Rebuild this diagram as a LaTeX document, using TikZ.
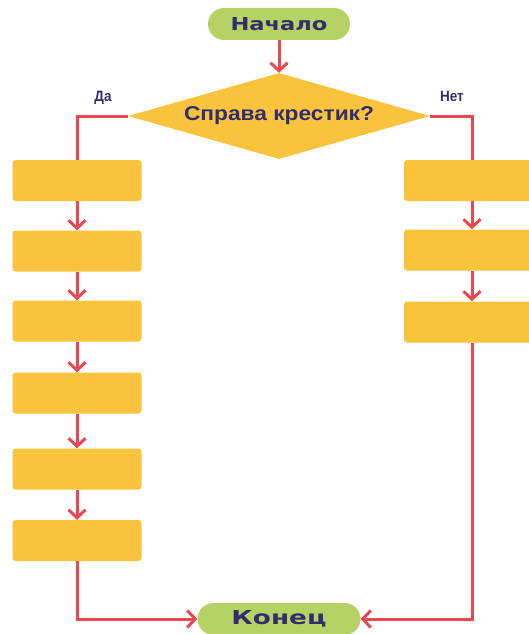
\documentclass[tikz,border=0pt]{standalone}
\usepackage{graphicx}
\usepackage{fontspec}
\setmainfont{Liberation Sans}
\newfontfamily\pillfont{DejaVu Sans}
\usetikzlibrary{shapes.geometric,arrows.meta}
\definecolor{pillgreen}{RGB}{183,210,100}
\definecolor{boxyellow}{RGB}{249,195,62}
\definecolor{linered}{RGB}{232,72,80}
\definecolor{textnavy}{RGB}{50,46,110}
\tikzset{
  pill/.style={rectangle, rounded corners=16pt, fill=pillgreen, minimum height=32pt,
    inner sep=0pt, text=textnavy, font=\pillfont\bfseries\fontsize{20}{20}\selectfont},
  decision/.style={diamond, aspect=3.51, fill=boxyellow, inner sep=0pt, minimum width=302pt,
    minimum height=86pt, text=textnavy, font=\bfseries\fontsize{21}{21}\selectfont},
  actbox/.style={rectangle, rounded corners=3pt, fill=boxyellow, minimum height=41pt, inner sep=0pt},
  branchlbl/.style={text=textnavy, font=\bfseries\fontsize{15}{15}\selectfont, inner sep=0pt},
  flow/.style={draw=linered, line width=3pt},
  flowarrow/.style={flow, -{Straight Barb[length=8pt,width=17pt,line width=3pt]}}
}
\begin{document}
\begin{tikzpicture}[x=1pt,y=-1pt]
\useasboundingbox (0,0) rectangle (529,634);
\clip (0,0) rectangle (529,634);

% start and end
\node[pill, minimum width=142pt] (start) at (279,24) {\resizebox{97pt}{13pt}{Начало}};
\node[pill, minimum width=163pt] (stop) at (279,619) {\resizebox{95pt}{14pt}{Конец}};

% decision
\node[decision] (dec) at (279,116) {\resizebox{190pt}{14pt}{Справа крестик?}};
\node[branchlbl] (yes) at (103,98) {\scalebox{0.9}[1]{Да}};
\node[branchlbl] (no) at (452,96) {\scalebox{0.9}[1]{Нет}};

% left branch
\node[actbox, minimum width=129pt] (L1) at (77,180.5) {};
\node[actbox, minimum width=129pt] (L2) at (77,251) {};
\node[actbox, minimum width=129pt] (L3) at (77,321) {};
\node[actbox, minimum width=129pt] (L4) at (77,393) {};
\node[actbox, minimum width=129pt] (L5) at (77,469) {};
\node[actbox, minimum width=129pt] (L6) at (77,540.5) {};

% right branch
\node[actbox, minimum width=136pt] (R1) at (472,180.5) {};
\node[actbox, minimum width=136pt] (R2) at (472,250) {};
\node[actbox, minimum width=136pt] (R3) at (472,322) {};

% connectors
\draw[flowarrow] (start) -- (dec.north);
\draw[flow] (dec.west) -| (L1.north);
\draw[flow] (dec.east) -| (R1.north);
\draw[flowarrow] (L1) -- (L2);
\draw[flowarrow] (L2) -- (L3);
\draw[flowarrow] (L3) -- (L4);
\draw[flowarrow] (L4) -- (L5);
\draw[flowarrow] (L5) -- (L6);
\draw[flowarrow] (R1) -- (R2);
\draw[flowarrow] (R2) -- (R3);
\draw[flowarrow] (L6.south) |- (stop.west);
\draw[flowarrow] (R3.south) |- (stop.east);
\end{tikzpicture}
\end{document}
